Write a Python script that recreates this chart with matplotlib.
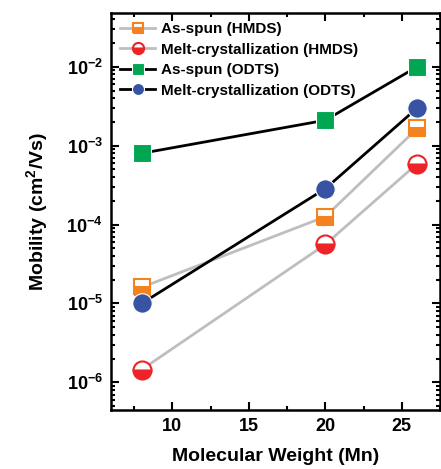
import numpy as np
import matplotlib
matplotlib.use('Agg')
import matplotlib.pyplot as plt
from matplotlib.ticker import LogLocator, FixedLocator, NullFormatter

plt.rcParams['font.family'] = 'Liberation Sans'
plt.rcParams['font.weight'] = 'bold'
plt.rcParams['mathtext.fontset'] = 'custom'
plt.rcParams['mathtext.rm'] = 'Liberation Sans:bold'
plt.rcParams['mathtext.bf'] = 'Liberation Sans:bold'
plt.rcParams['mathtext.default'] = 'bf'

# data
mn = [8, 20, 26]
asspun_hmds = [1.6e-5, 1.26e-4, 1.65e-3]
melt_hmds = [1.45e-6, 5.6e-5, 5.9e-4]
asspun_odts = [8.0e-4, 2.1e-3, 1.0e-2]
melt_odts = [1.0e-5, 2.85e-4, 3.0e-3]

x_ticks = [10, 15, 20, 25]
y_ticks = [1e-6, 1e-5, 1e-4, 1e-3, 1e-2]
y_ticklabels = [r'$10^{-6}$', r'$10^{-5}$', r'$10^{-4}$', r'$10^{-3}$', r'$10^{-2}$']

orange = '#F58220'
red = '#ED2328'
green = '#00A651'
blue = '#3953A4'
grey = '#BEBEBE'

fig = plt.figure(figsize=(4.41, 4.69), dpi=100)
ax = fig.add_axes([0.252, 0.126, 0.746, 0.846])

ax.plot(mn, asspun_hmds, color=grey, lw=2, marker='s', ms=11,
        mfc=orange, mfcalt='white', mec=orange, mew=1.5, fillstyle='bottom',
        label='As-spun (HMDS)', zorder=3)
ax.plot(mn, melt_hmds, color=grey, lw=2, marker='o', ms=13,
        mfc=red, mfcalt='white', mec=red, mew=1.5, fillstyle='bottom',
        label='Melt-crystallization (HMDS)', zorder=3)
ax.plot(mn, asspun_odts, color='black', lw=2, marker='s', ms=13,
        mfc=green, mec='white', mew=0.8,
        label='As-spun (ODTS)', zorder=4)
ax.plot(mn, melt_odts, color='black', lw=2, marker='o', ms=14,
        mfc=blue, mec='white', mew=0.8,
        label='Melt-crystallization (ODTS)', zorder=4)

ax.set_yscale('log')
ax.set_xlim(6, 27.5)
ax.set_ylim(10**-6.35, 10**-1.32)

ax.set_xticks(x_ticks)
ax.xaxis.set_minor_locator(FixedLocator([7.5, 12.5, 17.5, 22.5, 27.5]))
ax.yaxis.set_major_locator(FixedLocator(y_ticks))
ax.set_yticklabels(y_ticklabels)
ax.yaxis.set_minor_locator(LogLocator(base=10, subs=np.arange(2, 10), numticks=20))
ax.yaxis.set_minor_formatter(NullFormatter())

ax.tick_params(which='both', direction='in', top=True, right=True, width=1.5)
ax.tick_params(which='major', length=6, labelsize=13, pad=6)
ax.tick_params(which='minor', length=3)
for s in ax.spines.values():
    s.set_linewidth(1.8)

ax.set_xlabel('Molecular Weight (Mn)', fontsize=14, fontweight='bold', labelpad=9)
ax.set_ylabel('Mobility (cm$^2$/Vs)', fontsize=14, fontweight='bold', labelpad=12)

ax.legend(loc='upper left', frameon=False, handlelength=2.3, markerscale=0.62,
          handletextpad=0.35, labelspacing=0.42, borderaxespad=0.5,
          borderpad=0.1, prop={'weight': 'bold', 'size': 11})

fig.savefig('out.png', dpi=100)
